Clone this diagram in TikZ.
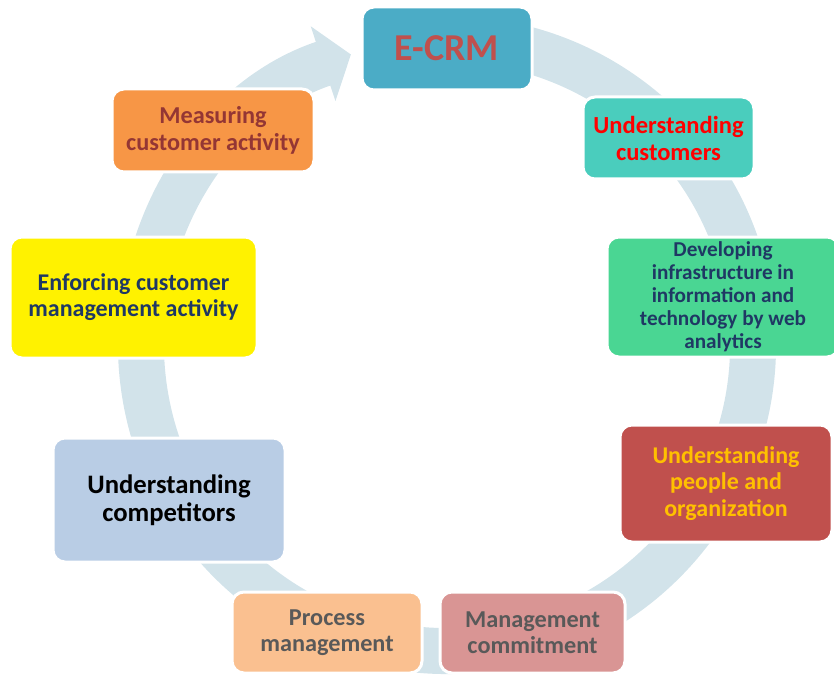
\documentclass[tikz,border=0pt]{standalone}
\usepackage{fontspec}
\setmainfont{Carlito}
\usetikzlibrary{arrows.meta}
\definecolor{ringBlue}{HTML}{D2E3EA}
\definecolor{ecrmFill}{HTML}{4BACC6}
\definecolor{ecrmText}{HTML}{C0504D}
\definecolor{custFill}{HTML}{4ACDBD}
\definecolor{infraFill}{HTML}{4AD693}
\definecolor{navyText}{HTML}{1F3864}
\definecolor{peopleFill}{HTML}{C0504D}
\definecolor{peopleText}{HTML}{FFC000}
\definecolor{commitFill}{HTML}{D99594}
\definecolor{greyText}{HTML}{595959}
\definecolor{processFill}{HTML}{FAC090}
\definecolor{competFill}{HTML}{B9CDE5}
\definecolor{measureFill}{HTML}{F79646}
\definecolor{measureText}{HTML}{943634}

\begin{document}
\begin{tikzpicture}[x=0.75pt, y=-0.75pt,
  stageBox/.style={draw=white, line width=2.25pt, rounded corners=9pt, align=center, inner sep=0pt}]
\useasboundingbox (0,0) rectangle (834,677);
% ring behind the boxes
\draw[ringBlue, line width=34.5pt, -{Triangle[length=22pt, width=58pt]}]
	(447,345) ++(-100:306) arc[start angle=-100, end angle=251.7, radius=306];
	\node[stageBox, fill=ecrmFill, text=ecrmText, minimum width=127.5pt, minimum height=62.25pt, font=\bfseries\fontsize{28.5}{35}\selectfont] (ecrm) at (447,48.5) {E-CRM};
	\node[stageBox, fill=custFill, text=red, minimum width=128.25pt, minimum height=61.5pt, font=\bfseries\fontsize{18.4}{20.25}\selectfont] (cust) at (668.5,138) {Understanding\\customers};
	\node[stageBox, fill=infraFill, text=navyText, minimum width=174pt, minimum height=90pt, font=\bfseries\fontsize{15.9}{17.25}\selectfont] (infra) at (723,297) {Developing\\infrastructure in\\information and\\technology by web\\analytics};
	\node[stageBox, fill=peopleFill, text=peopleText, minimum width=159pt, minimum height=87.75pt, font=\bfseries\fontsize{18}{19.9}\selectfont] (people) at (726,483.5) {Understanding\\people and\\organization};
	\node[stageBox, fill=commitFill, text=greyText, minimum width=138.75pt, minimum height=60.75pt, font=\bfseries\fontsize{18.2}{19.5}\selectfont] (commit) at (532.5,632.5) {Management\\commitment};
	\node[stageBox, fill=processFill, text=greyText, minimum width=142.5pt, minimum height=60.75pt, font=\bfseries\fontsize{18.2}{19.5}\selectfont] (process) at (327,632.5) {Process\\management};
	\node[stageBox, fill=competFill, text=black, minimum width=174pt, minimum height=93pt, font=\bfseries\fontsize{20}{21}\selectfont] (compet) at (169,500) {Understanding\\competitors};
	\node[stageBox, fill=yellow, text=navyText, minimum width=185.25pt, minimum height=90.75pt, font=\bfseries\fontsize{18}{19.5}\selectfont] (enforce) at (133.5,297.5) {Enforcing customer\\management activity};
	\node[stageBox, fill=measureFill, text=measureText, minimum width=151.5pt, minimum height=62.25pt, font=\bfseries\fontsize{18.2}{20.25}\selectfont] (measure) at (213,130.5) {Measuring\\customer activity};
\end{tikzpicture}
\end{document}
